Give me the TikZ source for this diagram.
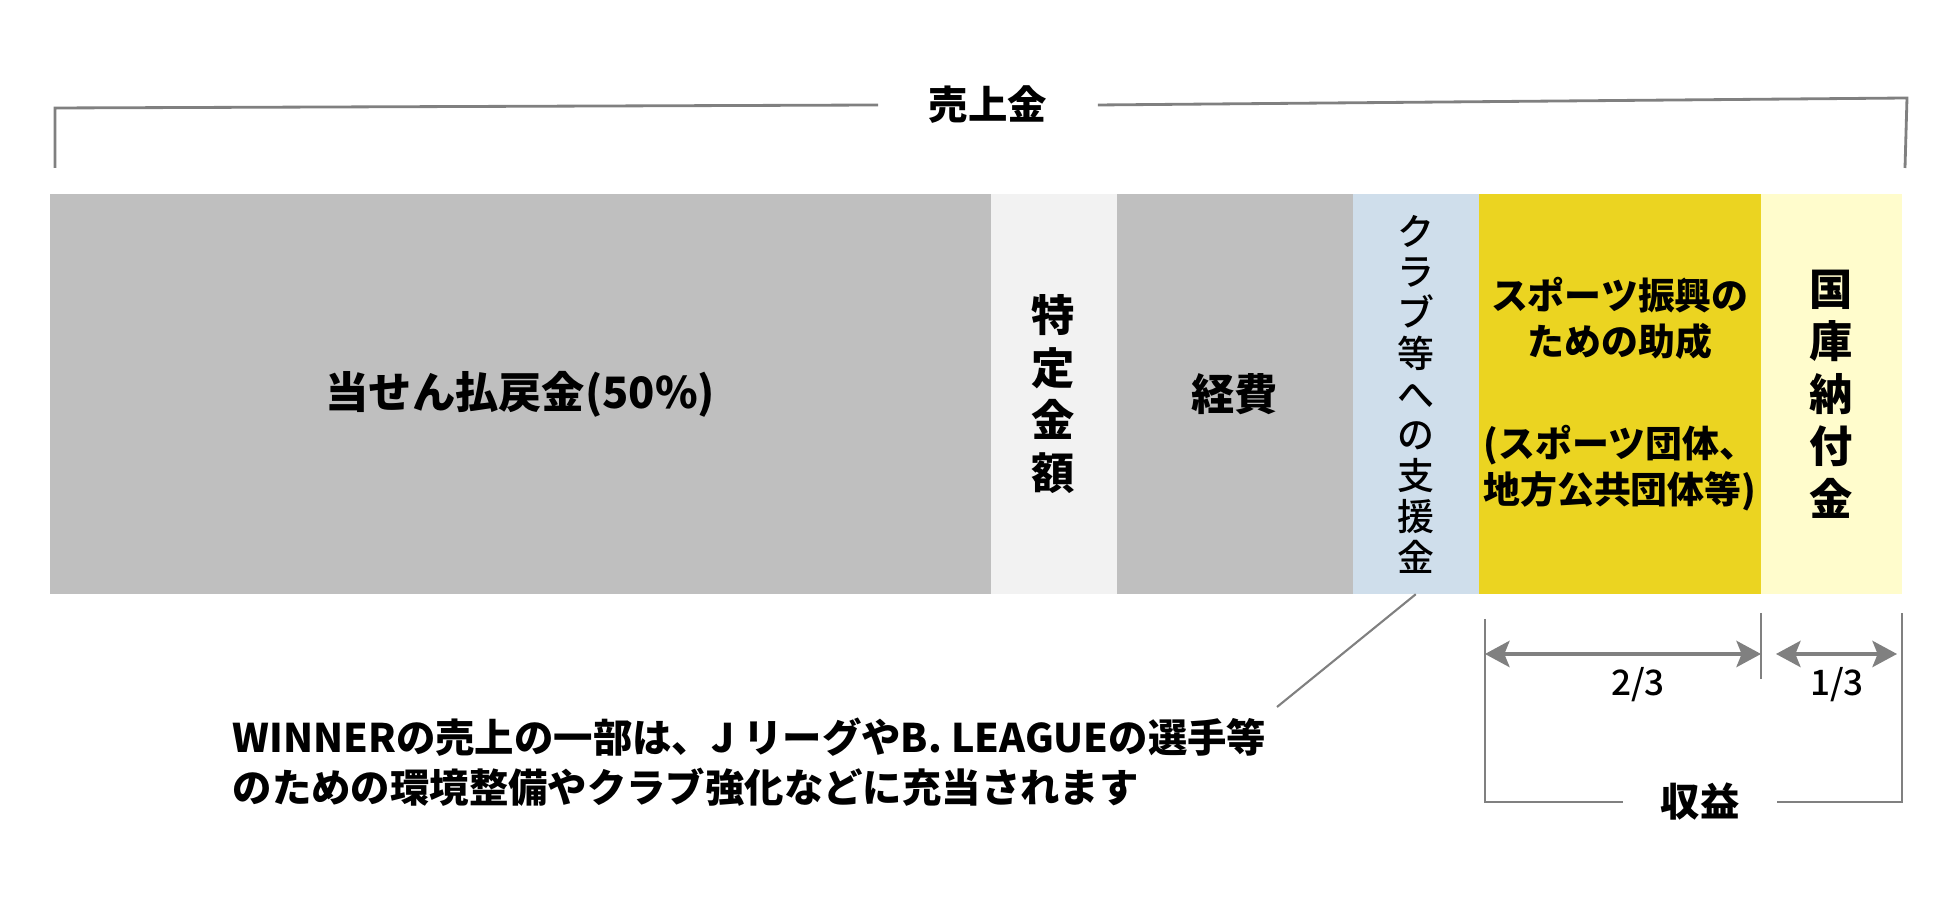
\documentclass[tikz,border=0pt]{standalone}
\usepackage{fontspec}
\setmainfont{Noto Sans CJK JP}
\newfontfamily\medfont{Noto Sans CJK JP Medium}
\usetikzlibrary{arrows.meta}
\usetikzlibrary{positioning}
\definecolor{mgray}{rgb}{0.75, 0.75, 0.75}
\definecolor{mlight}{rgb}{0.95, 0.95, 0.95}
\definecolor{mblue}{rgb}{0.81, 0.87, 0.92}
\definecolor{myellow}{rgb}{0.92, 0.83, 0.13}
\definecolor{mpale}{rgb}{1, 0.99, 0.8}
\definecolor{mline}{rgb}{0.5, 0.5, 0.5}

\begin{document}
\begin{tikzpicture}[x=0.01cm, y=-0.01cm,
    part/.style={inner sep=0pt, outer sep=0pt, minimum height=4cm, anchor=north west, align=center,
      font=\bfseries\fontsize{12.3}{14.9}\selectfont},
    brk/.style={mline, line width=0.8pt},
    dim/.style={mline, line width=0.9pt, {Stealth[length=7pt,width=7.5pt,inset=1.5pt]}-{Stealth[length=7pt,width=7.5pt,inset=1.5pt]}},
    lbl/.style={inner sep=0pt, font=\bfseries\fontsize{11.2}{14.2}\selectfont}]
  \useasboundingbox (0,0) rectangle (1950,898);
  % bar of the sales
  \node[part, fill=mgray, minimum width=9.4cm] (win) at (50,194) {当せん払戻金(50\%)};
  \node[part, fill=mlight, minimum width=1.26cm, right=0pt of win] (fixed) {特\\定\\金\\額};
  \node[part, fill=mgray, minimum width=2.36cm, right=0pt of fixed] (cost) {経費};
  \node[part, fill=mblue, minimum width=1.26cm, right=0pt of cost,
    font=\medfont\fontsize{10.5}{11.6}\selectfont] (club) {ク\\ラ\\ブ\\等\\へ\\の\\支\\援\\金};
  \node[part, fill=myellow, minimum width=2.82cm, right=0pt of club,
    font=\bfseries\fontsize{10.5}{13.1}\selectfont] (sports)
    {スポーツ振興の\\ための助成\\[16pt](スポーツ団体、\\地方公共団体等)};
  \node[part, fill=mpale, minimum width=1.41cm, right=0pt of sports] (treasury) {国\\庫\\納\\付\\金};

  % bracket on top
  \node[lbl, inner xsep=0.5cm] (sales) at (988,105) {売上金};
  \draw[brk] (55,168) -- (55,108) -- (sales.west);
  \draw[brk] (sales.east) -- (1907,98) -- (1905,168);

  % note
  \coordinate (noteTip) at (1277,707);
  \draw[mline, line width=0.6pt] (club.south) -- (noteTip);
  \node[lbl, anchor=west, align=left] (note) at (232,762)
    {WINNERの売上の一部は、J リーグやB. LEAGUEの選手等\\のための環境整備やクラブ強化などに充当されます};

  % profit
  \node[lbl, inner xsep=0.37cm] (profit) at (1700,802) {収益};
  \draw[brk] (1485,619) -- (1485,802) -- (profit.west);
  \draw[brk] (profit.east) -- (1902,802) -- (1902,613);
  \draw[brk] (1761,613) -- (1761,679);
  \draw[dim] (1485,654) -- (1761,654);
  \draw[dim] (1776,654) -- (1897,654);
  \node[font=\medfont\fontsize{10}{12}\selectfont] (twothirds) at (1638,685) {2/3};
  \node[font=\medfont\fontsize{10}{12}\selectfont] (onethird) at (1837,685) {1/3};
\end{tikzpicture}
\end{document}
